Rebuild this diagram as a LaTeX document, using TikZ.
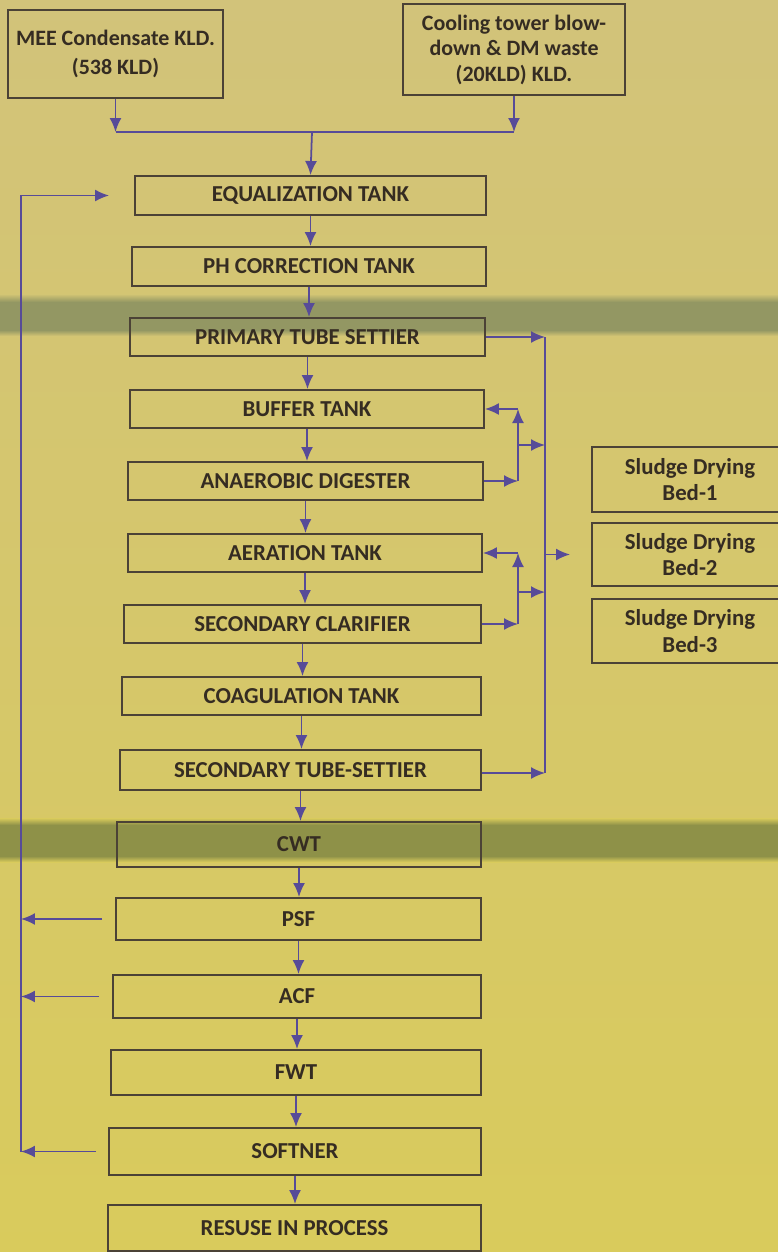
\documentclass[tikz,border=0pt]{standalone}
\usepackage{fontspec}
\setmainfont{Carlito}
\usetikzlibrary{arrows.meta, calc}
\definecolor{PaperTop}{HTML}{D2C37A}
\definecolor{PaperBottom}{HTML}{D9CB5C}
\definecolor{BandOne}{HTML}{939763}
\definecolor{BandTwo}{HTML}{8E9148}
\definecolor{InkGray}{HTML}{4B4236}
\definecolor{TextDark}{HTML}{352C22}
\definecolor{FlowPurple}{HTML}{574B98}
\tikzset{
  tank/.style={draw=InkGray, line width=1.1pt, align=center, inner sep=2pt, text=TextDark, font=\bfseries\fontsize{13}{15}\selectfont},
  source/.style={tank, font=\bfseries\fontsize{12.5}{17}\selectfont},
  bed/.style={tank, font=\bfseries\fontsize{13}{15}\selectfont},
  arrow/.style={-{Latex[length=2.8mm, width=2.4mm]}, line width=1pt, draw=FlowPurple},
  wire/.style={line width=1pt, draw=FlowPurple}
}
\begin{document}
\begin{tikzpicture}[x=0.02cm, y=-0.02cm]
\shade[top color=PaperTop, bottom color=PaperBottom] (0,0) rectangle (778,1252);
% shadow bands of the photo
\shade[top color=PaperTop!80!PaperBottom, bottom color=BandOne] (0,294) rectangle (778,302);
\fill[BandOne] (0,302) rectangle (778,330);
\shade[top color=BandOne, bottom color=PaperTop!80!PaperBottom] (0,330) rectangle (778,336);
\shade[top color=PaperBottom, bottom color=BandTwo] (0,818) rectangle (778,825);
\fill[BandTwo] (0,825) rectangle (778,856);
\shade[top color=BandTwo, bottom color=PaperBottom] (0,856) rectangle (778,862);
\useasboundingbox (0,0) rectangle (778,1252);

% inflows
\node[source, minimum width=4.30cm, minimum height=1.76cm] (mee) at (115.5,54) {MEE Condensate KLD.\\(538 KLD)};
\node[source, minimum width=4.44cm, minimum height=1.82cm, font=\bfseries\fontsize{12.5}{14.5}\selectfont] (cool) at (514,49.5) {Cooling tower blow-\\down \& DM waste\\(20KLD) KLD.};
\coordinate (join) at (312,132);

% treatment chain
\node[tank, minimum width=7.02cm, minimum height=0.78cm] (equal) at (310.5,195.5) {EQUALIZATION TANK};
\node[tank, minimum width=7.08cm, minimum height=0.78cm] (ph) at (309,266.5) {PH CORRECTION TANK};
\node[tank, minimum width=7.10cm, minimum height=0.76cm] (pts) at (307.5,337) {PRIMARY TUBE SETTIER};
\node[tank, minimum width=7.08cm, minimum height=0.76cm] (buffer) at (307,409) {BUFFER TANK};
\node[tank, minimum width=7.10cm, minimum height=0.76cm] (anaer) at (305.5,481) {ANAEROBIC DIGESTER};
\node[tank, minimum width=7.08cm, minimum height=0.76cm] (aer) at (305,553) {AERATION TANK};
\node[tank, minimum width=7.14cm, minimum height=0.76cm] (clar) at (302.5,624) {SECONDARY CLARIFIER};
\node[tank, minimum width=7.18cm, minimum height=0.76cm] (coag) at (301.5,696) {COAGULATION TANK};
\node[tank, minimum width=7.22cm, minimum height=0.80cm] (sts) at (300.5,770) {SECONDARY TUBE-SETTIER};
\node[tank, minimum width=7.28cm, minimum height=0.90cm] (cwt) at (299,844.5) {CWT};
\node[tank, minimum width=7.30cm, minimum height=0.84cm] (psf) at (298.5,919) {PSF};
\node[tank, minimum width=7.36cm, minimum height=0.86cm] (acf) at (297,996.5) {ACF};
\node[tank, minimum width=7.40cm, minimum height=0.90cm] (fwt) at (296,1072.5) {FWT};
\node[tank, minimum width=7.44cm, minimum height=0.94cm] (soft) at (295,1151.5) {SOFTNER};
\node[tank, minimum width=7.46cm, minimum height=0.92cm] (reuse) at (294.5,1228) {RESUSE IN PROCESS};

% sludge side
\node[bed, minimum width=3.92cm, minimum height=1.30cm] (bed1) at (690,479.5) {Sludge Drying\\Bed-1};
\node[bed, minimum width=3.92cm, minimum height=1.26cm] (bed2) at (690,554.5) {Sludge Drying\\Bed-2};
\node[bed, minimum width=3.92cm, minimum height=1.28cm] (bed3) at (690,631) {Sludge Drying\\Bed-3};
\coordinate (busTop) at (545,337);
\coordinate (busBot) at (545,773);
\coordinate (loopUp) at (518,0);
\coordinate (ret) at (21,0);

% inflow arrows
\draw[arrow] (mee.south) -- (mee.south |- join);
\draw[arrow] (cool.south) -- (cool.south |- join);
\draw[wire] (mee.south |- join) -- (cool.south |- join);
\draw[arrow] (join) -- (equal.north);

% main flow
\draw[arrow] (equal.south) -- (equal.south |- ph.north);
\draw[arrow] (ph.south) -- (ph.south |- pts.north);
\draw[arrow] (pts.south) -- (pts.south |- buffer.north);
\draw[arrow] (buffer.south) -- (buffer.south |- anaer.north);
\draw[arrow] (anaer.south) -- (anaer.south |- aer.north);
\draw[arrow] (aer.south) -- (aer.south |- clar.north);
\draw[arrow] (clar.south) -- (clar.south |- coag.north);
\draw[arrow] (coag.south) -- (coag.south |- sts.north);
\draw[arrow] (sts.south) -- (sts.south |- cwt.north);
\draw[arrow] (cwt.south) -- (cwt.south |- psf.north);
\draw[arrow] (psf.south) -- (psf.south |- acf.north);
\draw[arrow] (acf.south) -- (acf.south |- fwt.north);
\draw[arrow] (fwt.south) -- (fwt.south |- soft.north);
\draw[arrow] (soft.south) -- (soft.south |- reuse.north);

% sludge collection
\draw[wire] (busTop) -- (busBot);
\draw[arrow] (pts.east) -- (pts.east -| busTop);
\draw[arrow] (sts.east |- busBot) -- (busBot);
\draw[arrow] (anaer.east) -- (anaer.east -| loopUp);
\draw[arrow] (anaer.east -| loopUp) -- (buffer.east -| loopUp);
\draw[arrow] (buffer.east -| loopUp) -- (buffer.east);
\coordinate (midA) at ($(buffer.east -| loopUp)!0.5!(anaer.east -| loopUp)$);
\draw[arrow] (midA) -- (midA -| busTop);
\draw[arrow] (clar.east) -- (clar.east -| loopUp);
\draw[arrow] (clar.east -| loopUp) -- (aer.east -| loopUp);
\draw[arrow] (aer.east -| loopUp) -- (aer.east);
\coordinate (midB) at ($(aer.east -| loopUp)!0.55!(clar.east -| loopUp)$);
\draw[arrow] (midB) -- (midB -| busTop);
\draw[arrow, shorten >=0.42cm] (busTop |- bed2.west) -- (bed2.west);

% backwash return
\draw[arrow, shorten <=0.26cm] (psf.west) -- (psf.west -| ret);
\draw[arrow, shorten <=0.26cm] (acf.west) -- (acf.west -| ret);
\draw[arrow, shorten <=0.24cm] (soft.west) -- (soft.west -| ret);
\draw[arrow, shorten >=0.5cm] (soft.west -| ret) |- (equal.west);
\end{tikzpicture}
\end{document}
